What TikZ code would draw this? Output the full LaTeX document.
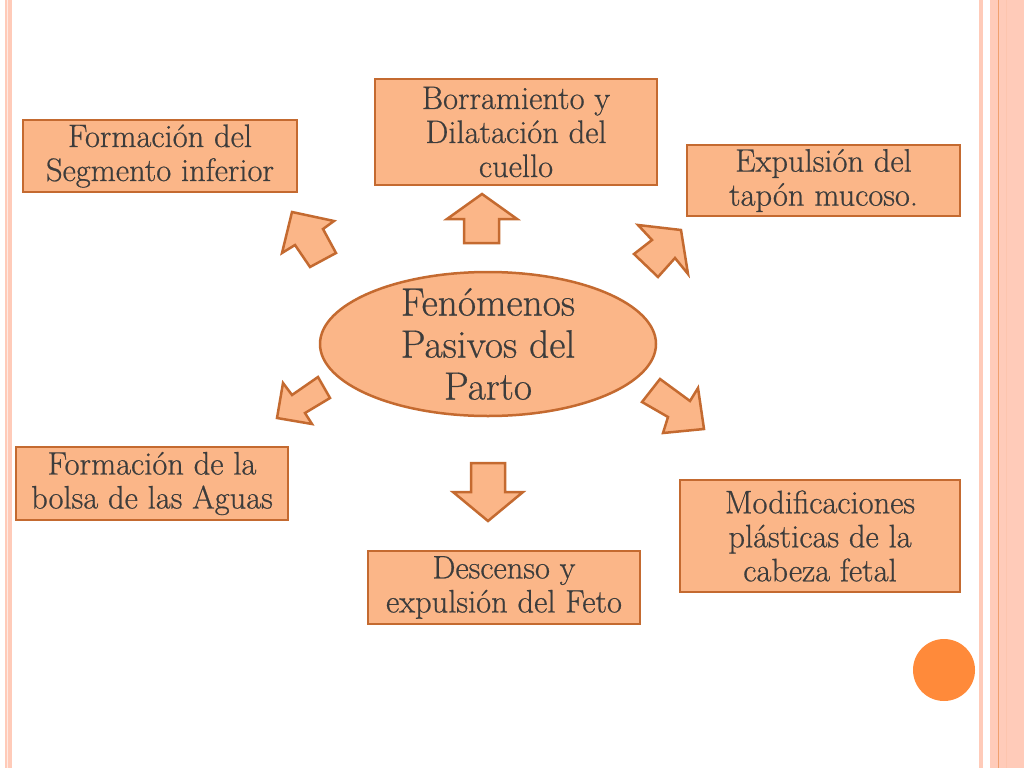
\documentclass[tikz,border=0pt]{standalone}
\usepackage{fontspec}
\setmainfont{Latin Modern Roman}[FakeBold=0.6]
\usepackage{tikz}
\usetikzlibrary{shapes.geometric}
\definecolor{peach}{RGB}{251,182,136}
\definecolor{rim}{RGB}{196,106,48}
\definecolor{txt}{RGB}{60,60,60}
\definecolor{stripe}{RGB}{255,203,185}
\definecolor{stripeline}{RGB}{240,160,110}
\definecolor{dot}{RGB}{255,138,58}
\begin{document}
\begin{tikzpicture}[x=1pt,y=-1pt,
  box/.style={draw=rim,fill=peach,line width=2.5pt,inner sep=0pt,align=center,
    text=txt,font=\fontsize{32.5}{34}\selectfont},
  blockarrow/.style={draw=rim,fill=peach,line width=2.5pt,line join=miter}]
\useasboundingbox (0,0) rectangle (1024,768);
\fill[white] (0,0) rectangle (1024,768);
% border stripes
\fill[stripe] (5,0) rectangle (12,768);
\fill[white!60!stripe] (7.3,0) rectangle (8.3,768);
\fill[stripe] (979,0) rectangle (983,768);
\fill[stripe] (990,0) rectangle (1024,768);
\fill[stripeline] (997.5,0) rectangle (998.8,768);
\fill[stripe!85!stripeline] (1006,0) rectangle (1007,768);
% boxes
\node[box,minimum width=274pt,minimum height=72pt] (seg) at (160,156) {Formación del\\Segmento inferior};
\node[box,minimum width=282pt,minimum height=106pt] (bor) at (516,132) {Borramiento y\\Dilatación del\\cuello};
\node[box,minimum width=273pt,minimum height=71pt] (exp) at (823.5,180.5) {Expulsión del\\tapón mucoso.};
\node[box,minimum width=272pt,minimum height=73pt] (bol) at (152,483.5) {Formación de la\\bolsa de las Aguas};
\node[box,minimum width=272pt,minimum height=73pt] (des) at (504,587.5) {Descenso y\\expulsión del Feto};
\node[box,minimum width=280pt,minimum height=112pt] (mod) at (820,536) {Modificaciones\\plásticas de la\\cabeza fetal};
% centre ellipse
\node[ellipse,draw=rim,fill=peach,line width=2.5pt,inner sep=0pt,minimum width=336pt,minimum height=144pt] (fen) at (488,344) {};
\node[align=center,text=txt,inner sep=0pt,font=\fontsize{39.5}{42}\selectfont] (fentext) at (fen.center) {Fenómenos\\Pasivos del\\Parto};
% block arrows
\draw[blockarrow] (482,194) -- (517,219) -- (499,219) -- (499,243) -- (464,243) -- (464,219) -- (447,219) -- cycle;
\draw[blockarrow] (471,463) -- (505,463) -- (505,492) -- (523,492) -- (488,521) -- (453,492) -- (471,492) -- cycle;
\draw[blockarrow] (292,212) -- (334,221) -- (323,229) -- (336,253) -- (310,267) -- (295,245) -- (282,253) -- cycle;
\draw[blockarrow] (638,225) -- (681,230) -- (688,274) -- (675,258) -- (658,277) -- (634,254) -- (652,240) -- cycle;
\draw[blockarrow] (277,418) -- (312,424) -- (305,413) -- (330,398) -- (318,377) -- (292,395) -- (283,383) -- cycle;
\draw[blockarrow] (660,379) -- (690,401) -- (698,388) -- (704,429) -- (663,433) -- (668,417) -- (642,402) -- cycle;
% decorative dot
\fill[dot] (944,670) circle (31);
\end{tikzpicture}
\end{document}
